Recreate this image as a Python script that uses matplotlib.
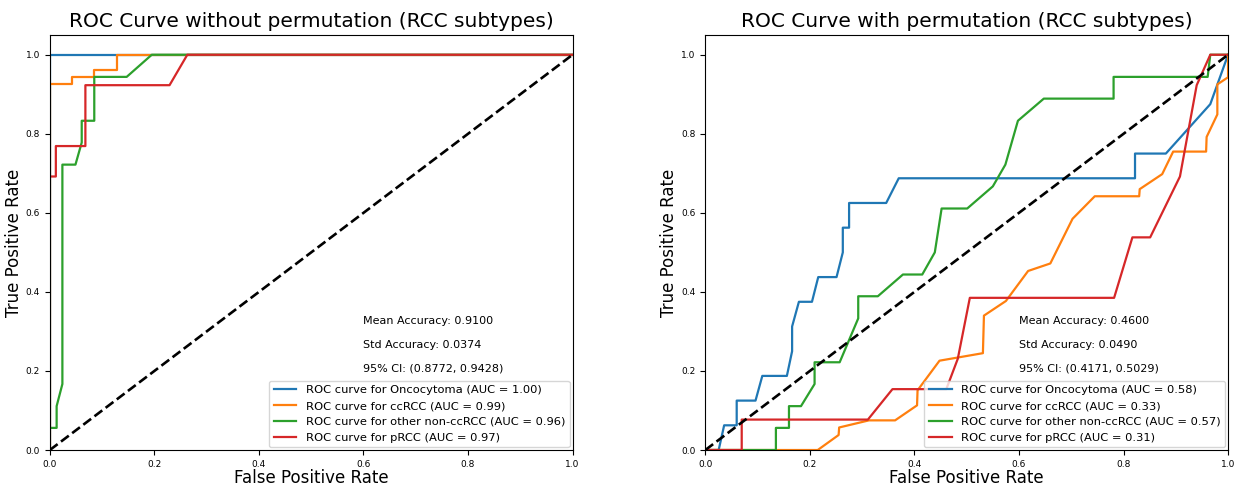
import matplotlib
matplotlib.use("Agg")
import matplotlib.pyplot as plt

CLASS_NAMES = ["Oncocytoma", "ccRCC", "other non-ccRCC", "pRCC"]

# ROC curves, no permutation
FPR_PLAIN = [
    [0.0, 0.0, 1.0],
    [0.0, 0.0, 0.043, 0.043, 0.085, 0.085, 0.128, 0.128, 1.0],
    [0.0, 0.0, 0.013, 0.013, 0.024, 0.024, 0.049, 0.061, 0.061, 0.085, 0.085, 0.147, 0.195, 1.0],
    [0.0, 0.0, 0.0115, 0.0115, 0.068, 0.068, 0.229, 0.263, 1.0],
]
TPR_PLAIN = [
    [0.0, 1.0, 1.0],
    [0.0, 0.925, 0.925, 0.943, 0.943, 0.962, 0.962, 1.0, 1.0],
    [0.0, 0.056, 0.056, 0.111, 0.167, 0.722, 0.722, 0.778, 0.833, 0.833, 0.944, 0.944, 1.0, 1.0],
    [0.0, 0.692, 0.692, 0.769, 0.769, 0.923, 0.923, 1.0, 1.0],
]
AUC_PLAIN = [1.00, 0.99, 0.96, 0.97]
STATS_PLAIN = (0.9100, 0.0374, 0.8772, 0.9428)

# ROC curves, labels permuted
FPR_PERM = [
    [0.0, 0.0255, 0.036, 0.060, 0.060, 0.096, 0.109, 0.156, 0.166, 0.166, 0.179, 0.204, 0.216,
     0.251, 0.263, 0.263, 0.275, 0.275, 0.346, 0.370, 0.822, 0.822, 0.881, 0.966, 1.0],
    [0.0, 0.215, 0.255, 0.256, 0.313, 0.363, 0.405, 0.406, 0.448, 0.531, 0.533, 0.575, 0.6175,
     0.660, 0.7025, 0.745, 0.830, 0.831, 0.874, 0.895, 0.958, 0.959, 0.9795, 0.9795, 1.0, 1.0],
    [0.0, 0.135, 0.135, 0.160, 0.160, 0.183, 0.209, 0.209, 0.257, 0.2925, 0.2925, 0.330, 0.378,
     0.415, 0.439, 0.452, 0.501, 0.550, 0.574, 0.598, 0.6475, 0.781, 0.781, 0.961, 0.966, 1.0],
    [0.0, 0.0696, 0.0696, 0.311, 0.358, 0.461, 0.483, 0.506, 0.782, 0.817, 0.851, 0.908, 0.940,
     0.966, 1.0],
]
TPR_PERM = [
    [0.0, 0.0, 0.0625, 0.0625, 0.125, 0.125, 0.1875, 0.1875, 0.25, 0.3125, 0.375, 0.375, 0.4375,
     0.4375, 0.5, 0.5625, 0.5625, 0.625, 0.625, 0.6875, 0.6875, 0.75, 0.75, 0.875, 1.0],
    [0.0, 0.0, 0.038, 0.057, 0.075, 0.075, 0.113, 0.151, 0.226, 0.245, 0.340, 0.377, 0.453,
     0.472, 0.585, 0.642, 0.642, 0.660, 0.698, 0.755, 0.755, 0.792, 0.849, 0.925, 0.943, 1.0],
    [0.0, 0.0, 0.056, 0.056, 0.111, 0.111, 0.167, 0.222, 0.222, 0.333, 0.389, 0.389, 0.444,
     0.444, 0.5, 0.611, 0.611, 0.667, 0.722, 0.833, 0.889, 0.889, 0.944, 0.944, 1.0, 1.0],
    [0.0, 0.0, 0.077, 0.077, 0.154, 0.154, 0.231, 0.385, 0.385, 0.538, 0.538, 0.692, 0.923,
     1.0, 1.0],
]
AUC_PERM = [0.58, 0.33, 0.57, 0.31]
STATS_PERM = (0.4600, 0.0490, 0.4171, 0.5029)


def _plot_roc(ax, fprs, tprs, aucs, stats, title):
    for name, fpr, tpr, auc in zip(CLASS_NAMES, fprs, tprs, aucs):
        ax.plot(fpr, tpr, lw=1.6, label=f"ROC curve for {name} (AUC = {auc:.2f})")
    ax.plot([0, 1], [0, 1], color="black", lw=1.9, linestyle="--")

    ax.set_xlim([0.0, 1.0])
    ax.set_ylim([0.0, 1.05])
    ax.set_xlabel("False Positive Rate", fontsize=12, labelpad=0.5)
    ax.set_ylabel("True Positive Rate", fontsize=12, labelpad=2)
    ax.set_title(title, fontsize=14.5)
    ax.tick_params(labelsize=6.5)

    mean_acc, std_acc, ci_lo, ci_hi = stats
    ax.text(0.6, 0.327, f"Mean Accuracy: {mean_acc:.4f}", fontsize=8, va="center")
    ax.text(0.6, 0.266, f"Std Accuracy: {std_acc:.4f}", fontsize=8, va="center")
    ax.text(0.6, 0.205, f"95% CI: ({ci_lo:.4f}, {ci_hi:.4f})", fontsize=8, va="center")
    ax.legend(loc="lower right", fontsize=8.25, borderaxespad=0.25)


def main():
    fig, (ax_left, ax_right) = plt.subplots(1, 2, figsize=(12.46, 4.9), dpi=100)
    plt.subplots_adjust(left=0.040, right=0.9856, bottom=0.0816, top=0.9286, wspace=0.254)

    _plot_roc(ax_left, FPR_PLAIN, TPR_PLAIN, AUC_PLAIN, STATS_PLAIN,
              "ROC Curve without permutation (RCC subtypes)")
    _plot_roc(ax_right, FPR_PERM, TPR_PERM, AUC_PERM, STATS_PERM,
              "ROC Curve with permutation (RCC subtypes)")

    fig.savefig("out.png", dpi=100)
    plt.close(fig)


if __name__ == "__main__":
    main()
